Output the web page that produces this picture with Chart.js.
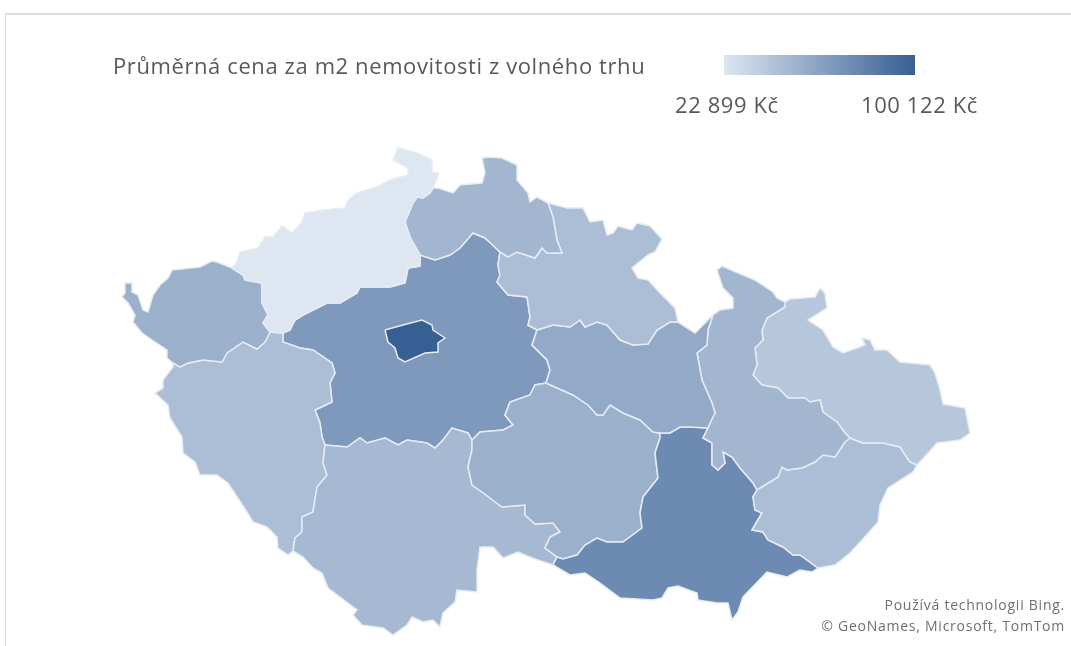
<!DOCTYPE html>
<html>
<head>
<meta charset="utf-8">
<script src="https://cdn.jsdelivr.net/npm/chart.js@4"></script>
<style>
  body { margin: 0; background: #fff; width: 1071px; height: 646px; overflow: hidden; position: relative; font-family: "Open Sans", sans-serif; }
  canvas { position: absolute; left: 0; top: 0; filter: blur(0.5px); }
  .frame { position: absolute; left: 5px; top: 13px; width: 1066px; height: 633px; border-left: 1px solid #dedede; border-top: 2px solid #dedede; box-sizing: border-box; }
  .txt { position: absolute; color: #595959; white-space: nowrap; line-height: 1; letter-spacing: 0.6px; filter: blur(0.3px); }
  .credit { font-size: 14px; color: #6f6f6f; letter-spacing: 0.75px; right: 6px; }
  #scale { position: absolute; left: 724px; top: 55px; width: 191px; height: 20px; background: linear-gradient(to right, #dde6f1, #365f93); }
</style>
</head>
<body>
<div class="frame"></div>
<canvas id="chart" width="1071" height="646"></canvas>
<div class="txt" id="title" style="left:113px;top:54px;font-size:22px;">Průměrná cena za m2 nemovitosti z volného trhu</div>
<div id="scale"></div>
<div class="txt" id="minLabel" style="left:675px;top:93px;font-size:22px;">22 899 Kč</div>
<div class="txt" id="maxLabel" style="left:861px;top:93px;font-size:22px;">100 122 Kč</div>
<div class="txt credit" style="top:598px;">Používá technologii Bing.</div>
<div class="txt credit" style="top:619px;">© GeoNames, Microsoft, TomTom</div>
<script>
// scale ends from the legend
const minPrice = 22899;
const maxPrice = 100122;
const lowColor = [221, 230, 241];
const highColor = [54, 95, 147];

// region names and prices (estimated from the shading)
const regions = ['Praha', 'Ústecký', 'Karlovarský', 'Liberecký', 'Královéhradecký', 'Pardubický', 'Olomoucký', 'Moravskoslezský', 'Zlínský', 'Jihomoravský', 'Vysočina', 'Jihočeský', 'Plzeňský', 'Středočeský'];
const prices = [100122, 22899, 53800, 50200, 45500, 57600, 50200, 41000, 45500, 74700, 53800, 48400, 46000, 66800];

// borders in map units, shared between neighbouring regions
const kvNorth = [[232,268],[217,262],[212,261],[200,267],[190,268],[172,270],[168,278],[160,285],[153,295],[148,312],[143,310],[138,295],[132,292],[132,283],[125,283],[125,293],[122,297],[128,303],[135,315],[133,322],[142,333],[155,342],[167,350],[167,358],[173,363]];
const kvPl = [[173,363],[180,367],[188,363],[203,360],[222,362],[227,353],[243,342],[257,349],[265,342],[270,332]];
const kvUl = [[232,268],[243,275],[245,280],[262,283],[262,303],[268,315],[263,323],[270,332]];
const ulNorth = [[232,268],[237,262],[240,252],[258,248],[265,237],[273,237],[282,226],[292,233],[302,222],[305,213],[323,210],[345,208],[348,200],[357,193],[377,187],[390,180],[408,175],[408,168],[393,160],[398,148],[417,153],[432,160],[432,172],[439,173],[433,188]];
const ulLi = [[433,188],[430,193],[423,198],[417,197],[413,203],[405,222],[410,237],[420,255]];
const ulSt = [[420,255],[420,266],[408,268],[405,283],[390,287],[360,287],[357,293],[340,303],[327,303],[303,315],[295,320],[290,330],[283,333]];
const plTop = [[270,332],[283,333]];
const liSt = [[420,255],[435,260],[450,255],[460,248],[473,233],[485,238],[500,252]];
const liNorth = [[433,188],[438,188],[453,193],[460,185],[482,183],[485,173],[482,158],[490,157],[502,158],[517,165],[517,180],[528,193],[530,202],[537,197],[548,203]];
const liKh = [[548,203],[553,217],[557,240],[562,253],[547,253],[542,248],[535,258],[517,252],[508,257],[500,252]];
const khNorth = [[548,203],[567,208],[583,208],[590,222],[603,220],[607,235],[613,233],[618,226],[632,230],[637,223],[650,226],[662,239],[655,252],[648,255],[632,268],[638,278],[648,280],[660,293],[675,308],[678,322]];
const khPa = [[537,330],[553,325],[570,327],[580,320],[585,327],[597,322],[607,325],[620,340],[633,345],[648,344],[657,330],[670,322],[678,322]];
const khSt = [[500,252],[498,265],[500,275],[497,282],[508,295],[527,297],[530,317],[528,325],[537,330]];
const paNorth = [[678,322],[695,333],[713,315]];
const paOl = [[713,315],[708,330],[707,345],[697,353],[702,380],[712,403],[715,413],[710,423],[708,428]];
const paJm = [[708,428],[690,427],[680,427],[670,433],[660,433]];
const paVy = [[660,433],[653,432],[640,420],[623,413],[610,405],[603,415],[597,415],[588,405],[573,395],[546,383]];
const stPa = [[537,330],[532,345],[547,360],[550,370],[546,383]];
const olNorth = [[713,315],[720,310],[733,308],[733,298],[723,288],[717,270],[722,266],[743,275],[755,280],[773,292],[777,298],[785,302]];
const olMs = [[785,302],[785,307],[767,318],[762,330],[763,340],[755,348],[757,365],[753,375],[762,385],[778,388],[788,398],[805,398],[810,402],[820,400],[823,412],[837,422],[845,433],[850,438]];
const olZl = [[850,438],[845,442],[835,457],[823,455],[815,462],[802,468],[787,470],[782,467],[778,477],[760,488],[757,490]];
const olJm = [[708,428],[703,438],[712,443],[712,465],[718,470],[725,463],[723,452],[732,457],[740,468],[753,483],[757,490]];
const msOuter = [[785,302],[790,299],[815,297],[820,288],[825,293],[827,308],[808,320],[823,330],[833,347],[843,353],[857,348],[865,345],[862,338],[870,340],[875,350],[887,350],[900,362],[930,365],[935,373],[940,390],[943,404],[965,408],[970,433],[960,440],[937,443],[928,453],[917,465]];
const msZl = [[850,438],[863,443],[883,443],[900,447],[910,462],[917,465]];
const zlOuter = [[917,465],[913,472],[888,488],[880,505],[878,522],[862,540],[850,553],[835,565],[818,568]];
const zlJm = [[757,490],[753,497],[755,510],[762,513],[752,530],[763,532],[768,540],[783,547],[793,555],[800,555],[818,568]];
const jmOuter = [[553,565],[570,575],[585,573],[600,583],[620,598],[653,600],[662,598],[668,588],[678,586],[697,593],[698,600],[717,603],[728,603],[732,620],[738,612],[743,597],[767,572],[787,577],[800,570],[812,572],[818,568]];
const vyJm = [[553,565],[557,557],[563,559],[577,555],[585,545],[597,538],[607,542],[623,542],[642,528],[640,513],[643,497],[658,478],[655,453],[660,438],[660,433]];
const stVy = [[546,383],[535,385],[530,395],[510,402],[505,415],[513,425],[503,430],[480,432],[472,440]];
const vyJc = [[472,440],[472,450],[468,467],[472,485],[482,492],[502,507],[525,505],[525,515],[535,524],[553,523],[560,532],[550,537],[545,548],[557,557],[553,565]];
const stJc = [[472,440],[468,433],[452,428],[443,440],[435,448],[427,443],[407,440],[398,445],[385,438],[367,443],[360,438],[347,447],[325,445]];
const jcOuter = [[293,551],[303,557],[313,568],[322,573],[328,588],[357,610],[353,615],[362,625],[383,628],[393,635],[407,625],[412,617],[423,622],[433,620],[440,627],[443,613],[455,602],[457,590],[477,592],[477,570],[480,547],[493,547],[503,558],[518,552],[532,558],[553,565]];
const plJc = [[325,445],[323,463],[327,475],[317,487],[313,512],[302,517],[302,532],[295,538],[293,551]];
const plOuter = [[173,363],[173,367],[163,380],[163,388],[155,393],[168,405],[170,418],[182,437],[183,453],[195,462],[200,475],[217,475],[228,483],[247,512],[253,522],[267,527],[277,537],[278,548],[288,555],[293,551]];
const stPl = [[325,445],[322,437],[320,423],[315,410],[332,402],[330,383],[335,373],[332,363],[313,350],[300,348],[283,342],[283,333]];
const prahaEdge = [[385,330],[403,325],[422,320],[432,325],[433,330],[445,338],[438,343],[438,352],[425,353],[405,362],[398,358],[395,348],[388,342]];

const rev = a => a.slice().reverse();
const outlines = [
    prahaEdge,
    [...ulNorth, ...ulLi, ...ulSt, ...rev(plTop), ...rev(kvUl)],
    [...kvNorth, ...kvPl, ...rev(kvUl)],
    [...liNorth, ...liKh, ...rev(liSt), ...rev(ulLi)],
    [...khNorth, ...rev(khPa), ...rev(khSt), ...rev(liKh)],
    [...khPa, ...paNorth, ...paOl, ...paJm, ...paVy, ...rev(stPa)],
    [...olNorth, ...olMs, ...olZl, ...rev(olJm), ...rev(paOl)],
    [...msOuter, ...rev(msZl), ...rev(olMs)],
    [...msZl, ...zlOuter, ...rev(zlJm), ...rev(olZl)],
    [...vyJm, ...rev(paJm), ...olJm, ...zlJm, ...rev(jmOuter)],
    [...paVy, ...stVy, ...vyJc, ...vyJm],
    [...stJc, ...plJc, ...jcOuter, ...rev(vyJc)],
    [...plOuter, ...rev(plJc), ...stPl, ...rev(plTop), ...rev(kvPl)],
    [...rev(ulSt), ...liSt, ...khSt, ...stPa, ...stVy, ...stJc, ...stPl]
];

function priceColor(price) {
    const t = (price - minPrice) / (maxPrice - minPrice);
    const c = lowColor.map((low, i) => Math.round(low + (highColor[i] - low) * t));
    return 'rgb(' + c.join(',') + ')';
}

const ctx = document.getElementById('chart').getContext('2d');

new Chart(ctx, {
    type: 'scatter',
    data: {
        datasets: regions.map((name, i) => ({
            label: name,
            data: outlines[i].concat([outlines[i][0]]).map(p => ({ x: p[0], y: p[1] })),
            showLine: true,
            fill: 'shape',
            backgroundColor: priceColor(prices[i]),
            borderColor: '#e6ecf4',
            borderWidth: 1.5,
            pointRadius: 0,
            tension: 0
        }))
    },
    options: {
        responsive: false,
        animation: false,
        layout: { padding: 0 },
        scales: {
            x: { type: 'linear', display: false, min: 0, max: 1071 },
            y: { type: 'linear', display: false, min: 0, max: 646, reverse: true }
        },
        plugins: {
            legend: { display: false },
            tooltip: { enabled: false }
        }
    }
});
</script>
</body>
</html>
